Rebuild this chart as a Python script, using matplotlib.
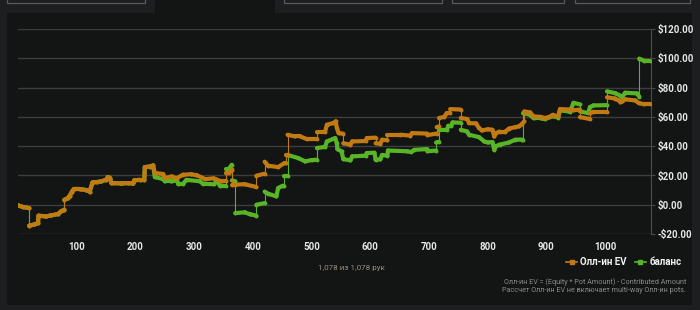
import numpy as np
import matplotlib
matplotlib.use("Agg")
import matplotlib.pyplot as plt
from matplotlib.collections import LineCollection
from matplotlib.lines import Line2D
from matplotlib.patches import Rectangle

plt.rcParams['font.family'] = ['Roboto', 'DejaVu Sans']

# hands where both series are the same (no all-ins yet)
early_hands = [0, 8, 19, 19, 28, 34, 35, 48, 56, 68, 73, 79, 79, 85, 88, 92, 95, 105, 116,
               122, 127, 135, 142, 150, 153, 156, 159, 162, 176, 187, 196, 198, 207, 215,
               216, 224, 230]
early_vals = [-0.5, -1.5, -2.3, -14.3, -13.5, -12.5, -7.5, -8.0, -7.3, -6.4, -4.6, -3.4, 3.4,
              4.5, 6.1, 9.0, 10.7, 10.7, 10.0, 9.0, 15.2, 15.5, 16.0, 17.0, 18.9, 18.5, 15.0,
              14.8, 14.5, 14.8, 14.5, 16.6, 17.0, 17.0, 25.7, 26.0, 26.8]

# all-in EV after that
ev_hands = [233, 247, 250, 262, 270, 281, 295, 305, 319, 333, 337, 347, 354, 354, 359, 365,
            365, 369, 386, 406, 406, 420, 420, 426, 443, 454, 456, 456, 459, 459, 472, 481,
            492, 509, 509, 523, 526, 537, 541, 543, 546, 554, 554, 566, 569, 592, 594, 609,
            609, 617, 620, 629, 629, 651, 668, 671, 697, 697, 713, 713, 717, 717, 726, 730,
            736, 736, 754, 754, 765, 768, 780, 785, 790, 800, 808, 811, 814, 820, 830, 836,
            847, 853, 858, 862, 862, 872, 878, 890, 897, 905, 911, 920, 923, 940, 946, 957,
            957, 974, 974, 980, 1003, 1003, 1017, 1023, 1026, 1029, 1034, 1051, 1057, 1066,
            1078]
ev_vals = [21.6, 21.0, 18.2, 19.3, 18.0, 20.5, 20.8, 20.0, 17.5, 18.0, 17.3, 15.9, 15.9, 21.6,
           21.6, 24.0, 13.7, 13.7, 14.0, 12.1, 19.8, 21.2, 29.4, 26.6, 25.7, 28.5, 28.5, 34.0,
           34.0, 47.8, 46.6, 46.6, 44.8, 44.8, 50.0, 50.0, 54.6, 55.8, 56.9, 52.4, 48.9, 48.5,
           42.0, 41.0, 43.2, 43.5, 45.5, 45.8, 42.0, 41.7, 44.4, 44.0, 47.8, 47.8, 47.2, 48.9,
           48.6, 47.5, 48.6, 53.0, 53.5, 59.2, 60.0, 62.6, 62.6, 65.3, 65.0, 59.2, 58.5, 55.8,
           55.5, 52.4, 50.7, 51.5, 51.2, 46.6, 48.9, 50.0, 50.0, 52.0, 53.0, 53.5, 55.0, 56.9,
           63.7, 63.0, 60.3, 60.0, 59.2, 60.0, 61.4, 60.3, 65.3, 65.0, 64.5, 65.0, 59.9, 58.5,
           62.6, 63.5, 63.5, 73.4, 72.5, 71.2, 70.0, 70.5, 72.0, 71.2, 69.5, 68.6, 68.6]

# balance after that
bal_hands = [233, 247, 250, 261, 270, 273, 281, 287, 310, 315, 333, 339, 344, 354, 354, 359,
             364, 364, 370, 370, 386, 395, 406, 406, 420, 420, 426, 440, 443, 451, 453, 453,
             459, 459, 477, 489, 500, 509, 509, 523, 526, 540, 543, 544, 551, 554, 566, 569,
             592, 594, 607, 609, 617, 620, 629, 630, 663, 669, 675, 697, 697, 712, 712, 717,
             717, 730, 733, 738, 740, 754, 754, 765, 768, 785, 794, 800, 808, 811, 814, 820,
             836, 847, 858, 860, 860, 872, 878, 890, 897, 911, 920, 923, 940, 946, 957, 957,
             971, 974, 980, 1003, 1003, 1017, 1026, 1029, 1034, 1054, 1058, 1058, 1066, 1078]
bal_vals = [18.9, 17.5, 15.9, 15.9, 16.6, 14.3, 14.3, 17.0, 16.0, 14.3, 14.0, 16.0, 13.0, 13.0,
            24.4, 24.4, 27.3, 16.6, 16.0, -5.7, -5.2, -6.5, -7.5, 0.0, 1.1, 9.0, 7.5, 5.7,
            11.4, 13.0, 13.0, 19.3, 19.3, 34.0, 31.9, 29.6, 30.5, 30.7, 38.7, 39.5, 43.2, 45.5,
            42.0, 38.0, 36.4, 31.2, 30.3, 33.0, 33.5, 35.3, 35.5, 30.7, 31.0, 34.0, 33.5, 37.0,
            36.5, 36.0, 37.5, 38.0, 36.5, 37.0, 42.5, 43.0, 51.2, 51.0, 54.0, 54.0, 56.2, 56.0,
            51.2, 50.0, 47.8, 46.2, 43.2, 42.5, 42.8, 37.5, 40.0, 41.0, 42.5, 44.4, 44.5, 44.5,
            62.5, 61.5, 59.0, 59.0, 58.5, 60.5, 59.5, 64.5, 63.5, 69.6, 68.5, 63.7, 62.6, 66.7,
            67.8, 68.0, 77.4, 76.2, 74.4, 73.5, 76.5, 76.0, 73.9, 99.8, 98.3, 98.3]

x_ticks = [100, 200, 300, 400, 500, 600, 700, 800, 900, 1000]
y_ticks = [-20, 0, 20, 40, 60, 80, 100, 120]
y_labels = ['-$20.00', '$0.00', '$20.00', '$40.00', '$60.00', '$80.00', '$100.00', '$120.00']

ORANGE = '#c27b12'
GREEN = '#58b526'


def draw_series(ax, hands, vals, color, z):
    pts = np.column_stack([hands, vals])
    segs = np.stack([pts[:-1], pts[1:]], axis=1)
    jump = np.diff(hands) == 0
    widths = np.where(jump, 0.8, 3.0)
    lc = LineCollection(segs, colors=color, linewidths=widths, capstyle='round',
                        joinstyle='round', zorder=z)
    ax.add_collection(lc)
    ax.plot(hands, vals, 'o', color=color, ms=2.8, mew=0, zorder=z)


fig = plt.figure(figsize=(7, 3.1), dpi=100, facecolor='#1d1e20')

# dark panel + top tab boxes
fig.patches.append(Rectangle((7 / 700, 0.015), 685 / 700, 1 - 13 / 310 - 0.015,
                             transform=fig.transFigure, facecolor='#131414',
                             edgecolor='none', zorder=0))
fig.patches.append(Rectangle((155 / 700, 1 - 13 / 310), 120 / 700, 13 / 310,
                             transform=fig.transFigure, facecolor='#131414',
                             edgecolor='none', zorder=0))
for x0, x1 in [(7, 145), (284, 442), (452, 564), (575, 690)]:
    fig.patches.append(Rectangle((x0 / 700, 1.2), (x1 - x0) / 700, 1 - 3.5 / 310 - 1.2,
                                 transform=fig.transFigure, facecolor='none',
                                 edgecolor='#5a5a5a', lw=0.9, zorder=1))

ax = fig.add_axes([18 / 700, 76 / 310, 633 / 700, 205 / 310])
ax.set_facecolor('none')
ax.set_zorder(5)

all_bal_h = early_hands + bal_hands
all_bal_v = early_vals + bal_vals
all_ev_h = early_hands + ev_hands
all_ev_v = early_vals + ev_vals
draw_series(ax, all_bal_h, all_bal_v, GREEN, 3)
draw_series(ax, all_ev_h, all_ev_v, ORANGE, 4)

ax.set_xlim(0, 1078)
ax.set_ylim(-20, 120)
ax.set_xticks(x_ticks)
ax.set_yticks(y_ticks)
ax.set_yticklabels(y_labels)
ax.yaxis.tick_right()
ax.grid(axis='y', color='#3c3d3e', lw=1.0, zorder=1)
ax.set_axisbelow(True)
for s in ['top', 'left', 'bottom']:
    ax.spines[s].set_visible(False)
ax.spines['right'].set_color('#4a4b4c')
ax.tick_params(axis='x', length=0, colors='#e6e6e6', labelsize=7, pad=6)
ax.tick_params(axis='y', length=3, color='#4a4b4c', colors='#e6e6e6', labelsize=7, pad=2)
for lab in ax.get_xticklabels() + ax.get_yticklabels():
    lab.set_fontweight('bold')

handles = [Line2D([], [], color=ORANGE, lw=1.2, marker='s', ms=3),
           Line2D([], [], color=GREEN, lw=1.2, marker='s', ms=3)]
leg = fig.legend(handles, ['Олл-ин EV', 'баланс'], loc='center right',
                 bbox_to_anchor=(690 / 700, 1 - 262 / 310), frameon=False, ncol=2,
                 handlelength=1.2, handletextpad=0.3, columnspacing=0.8,
                 prop={'size': 7, 'weight': 'bold'})
leg.set_zorder(6)
for t in leg.get_texts():
    t.set_color('#f0f0f0')

fig.text(351 / 700, 1 - 268 / 310, '1,078 из 1,078 рук', color='#9a8f82', fontsize=5.8,
         ha='center', va='center', zorder=6)
fig.text(686 / 700, 1 - 282 / 310, 'Олл-ин EV = (Equity * Pot Amount) - Contributed Amount',
         color='#8a8a8a', fontsize=5.2, ha='right', va='center', zorder=6)
fig.text(686 / 700, 1 - 290 / 310, 'Рассчет Олл-ин EV не включает multi-way Олл-ин pots.',
         color='#8a8a8a', fontsize=5.2, ha='right', va='center', zorder=6)

fig.savefig('out.png', dpi=100, facecolor=fig.get_facecolor())
